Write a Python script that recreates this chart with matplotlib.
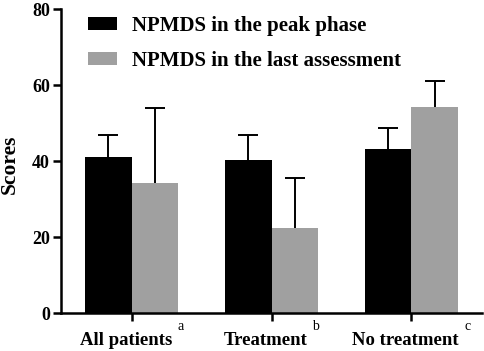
import numpy as np
import matplotlib
matplotlib.use("Agg")
import matplotlib.pyplot as plt

plt.rcParams['font.family'] = ['Liberation Serif', 'DejaVu Serif']
plt.rcParams['font.weight'] = 'bold'

groups = ["All patients", "Treatment", "No treatment"]
marks = ["a", "b", "c"]
peak = [41.1, 40.3, 43.2]
peak_err = [5.7, 6.5, 5.4]
last = [34.3, 22.3, 54.3]
last_err = [19.6, 13.3, 6.7]
series_names = ["NPMDS in the peak phase", "NPMDS in the last assessment"]

W, H = 484, 351
fig = plt.figure(figsize=(W/100, H/100), dpi=100)
ax = fig.add_axes([61/W, 38/H, 421/W, 304/H])

x = np.arange(len(groups))
w = 0.333
ax.bar(x - w/2, peak, w, color='black', label=series_names[0])
ax.bar(x + w/2, last, w, color='#a0a0a0', label=series_names[1])

# upper error bars only
for xs, vals, errs in [(x - w/2, peak, peak_err), (x + w/2, last, last_err)]:
    _, caps, _ = ax.errorbar(xs, vals, yerr=[np.zeros(3), errs], fmt='none',
                             ecolor='black', elinewidth=1.4, capsize=7.4,
                             capthick=1.4)
    caps[0].set_visible(False)

ax.set_xlim(-0.505, 2.505)
ax.set_ylim(0, 80)
ax.set_yticks([0, 20, 40, 60, 80])
ax.set_xticks(x)
ax.set_xticklabels([])
ax.tick_params(axis='y', labelsize=13, width=1.8, length=6, direction='out', pad=2)
ax.tick_params(axis='x', width=1.8, length=6, direction='out')
ax.set_ylabel("Scores", fontsize=15.5, fontweight='bold')
ax.yaxis.set_label_coords(-0.097, 0.49)

# group labels with small superscript letters, centred as a whole under the tick
renderer = fig.canvas.get_renderer()
base_y = 6 / H
for xc, lab, m in zip(x, groups, marks):
    xc_px = ax.transData.transform((xc, 0))[0]
    t = fig.text(0, base_y, lab, fontsize=13.5, ha='left', va='baseline')
    s = fig.text(0, base_y + 15 / H, m, fontsize=10, fontweight='normal',
                 ha='left', va='baseline')
    wl = t.get_window_extent(renderer).width
    ws = s.get_window_extent(renderer).width
    gap = 5
    left = xc_px - (wl + gap + ws) / 2
    t.set_x(left / W)
    s.set_x((left + wl + gap) / W)

for sp in ['top', 'right']:
    ax.spines[sp].set_visible(False)
for sp in ['left', 'bottom']:
    ax.spines[sp].set_linewidth(1.8)

ax.legend(loc='upper left', bbox_to_anchor=(88/W, 1 - 16/H),
          bbox_transform=fig.transFigure, frameon=False, fontsize=15,
          handlelength=1.39, handleheight=0.58, handletextpad=0.7,
          labelspacing=0.7, borderpad=0, borderaxespad=0)

fig.savefig("out.png", dpi=100)
